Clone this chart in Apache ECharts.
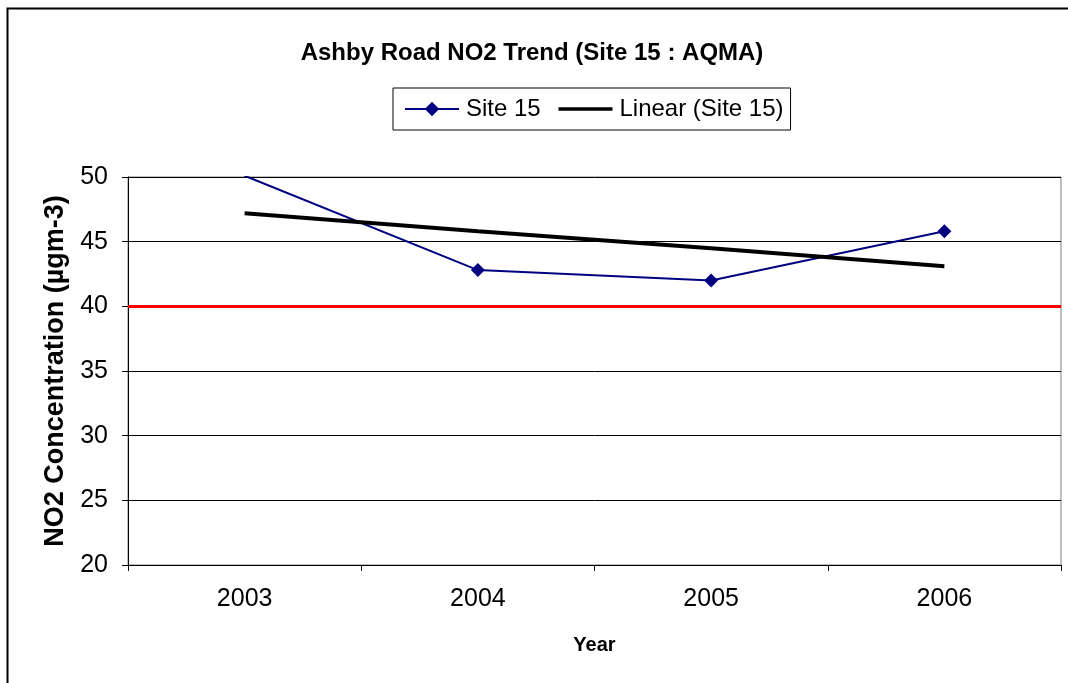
<!DOCTYPE html>
<html>
<head>
<meta charset="utf-8">
<script src="https://cdn.jsdelivr.net/npm/echarts@6/dist/echarts.min.js"></script>
<style>
  html, body { margin: 0; padding: 0; background: #fff; }
  #chart { width: 1068px; height: 683px; }
</style>
</head>
<body>
<div id="chart"></div>
<script>
const years = ['2003', '2004', '2005', '2006']
const site15 = [50.1, 42.8, 42.0, 45.8]
// trend line values
const linear = [47.2, 45.8, 44.5, 43.1]
const objective = 40
const yTicks = [20, 50, 5] // min, max, interval

const font = 'Arial, "Liberation Sans", sans-serif'

const option = {
  animation: false,
  textStyle: { fontFamily: font },
  title: {
    text: 'Ashby Road NO2 Trend (Site 15 : AQMA)',
    left: 527,
    textAlign: 'center',
    top: 36,
    textStyle: { fontSize: 24, fontWeight: 'bold', color: '#000', fontFamily: font }
  },
  legend: {
    left: 393,
    top: 88,
    padding: [9, 7, 9, 11],
    borderColor: '#000',
    borderWidth: 1,
    itemWidth: 54,
    itemHeight: 18,
    itemGap: 16,
    textStyle: { fontSize: 24, color: '#000', fontFamily: font, padding: [0, 0, 0, 2] },
    data: [
      { name: 'Site 15' },
      { name: 'Linear (Site 15)', itemStyle: { opacity: 0 }, lineStyle: { width: 3.5 } }
    ]
  },
  grid: {
    left: 128,
    right: 7,
    top: 177,
    bottom: 118,
    show: true,
    borderColor: '#808080',
    borderWidth: 1
  },
  xAxis: {
    type: 'category',
    data: years,
    boundaryGap: true,
    name: 'Year',
    nameLocation: 'middle',
    nameGap: 70,
    nameTextStyle: { fontSize: 20, fontWeight: 'bold', color: '#000', fontFamily: font },
    axisLine: { lineStyle: { color: '#000', width: 1 } },
    axisTick: { show: true, length: 6, inside: false, lineStyle: { color: '#000' } },
    axisLabel: { fontSize: 25, color: '#000', margin: 22, fontFamily: font }
  },
  yAxis: {
    type: 'value',
    min: yTicks[0],
    max: yTicks[1],
    interval: yTicks[2],
    name: 'NO2 Concentration (µgm-3)',
    nameLocation: 'middle',
    nameGap: 57,
    nameTextStyle: { fontSize: 27, fontWeight: 'bold', color: '#000', fontFamily: font },
    axisLine: { show: true, lineStyle: { color: '#000', width: 1 } },
    axisTick: { show: true, length: 6, lineStyle: { color: '#000' } },
    axisLabel: { fontSize: 25, color: '#000', margin: 20, fontFamily: font },
    splitLine: { show: true, lineStyle: { color: '#000', width: 1 } }
  },
  series: [
    {
      name: 'Site 15',
      type: 'line',
      data: site15,
      clip: true,
      symbol: 'diamond',
      symbolSize: 14,
      itemStyle: { color: '#000080' },
      lineStyle: { color: '#000080', width: 2 },
      z: 3
    },
    {
      name: 'Linear (Site 15)',
      type: 'line',
      data: linear,
      symbol: 'none',
      itemStyle: { color: '#000' },
      lineStyle: { color: '#000', width: 4 },
      z: 4,
      markLine: {
        silent: true,
        symbol: 'none',
        label: { show: false },
        lineStyle: { color: '#ff0000', width: 3, type: 'solid' },
        data: [{ yAxis: objective }]
      }
    }
  ],
  graphic: [
    {
      type: 'rect',
      shape: { x: 7.5, y: 8.5, width: 1070, height: 690 },
      style: { fill: null, stroke: '#000', lineWidth: 2 },
      silent: true
    }
  ]
}

const chart = echarts.init(document.getElementById('chart'), null, { renderer: 'canvas' })
chart.setOption(option)
</script>
</body>
</html>
